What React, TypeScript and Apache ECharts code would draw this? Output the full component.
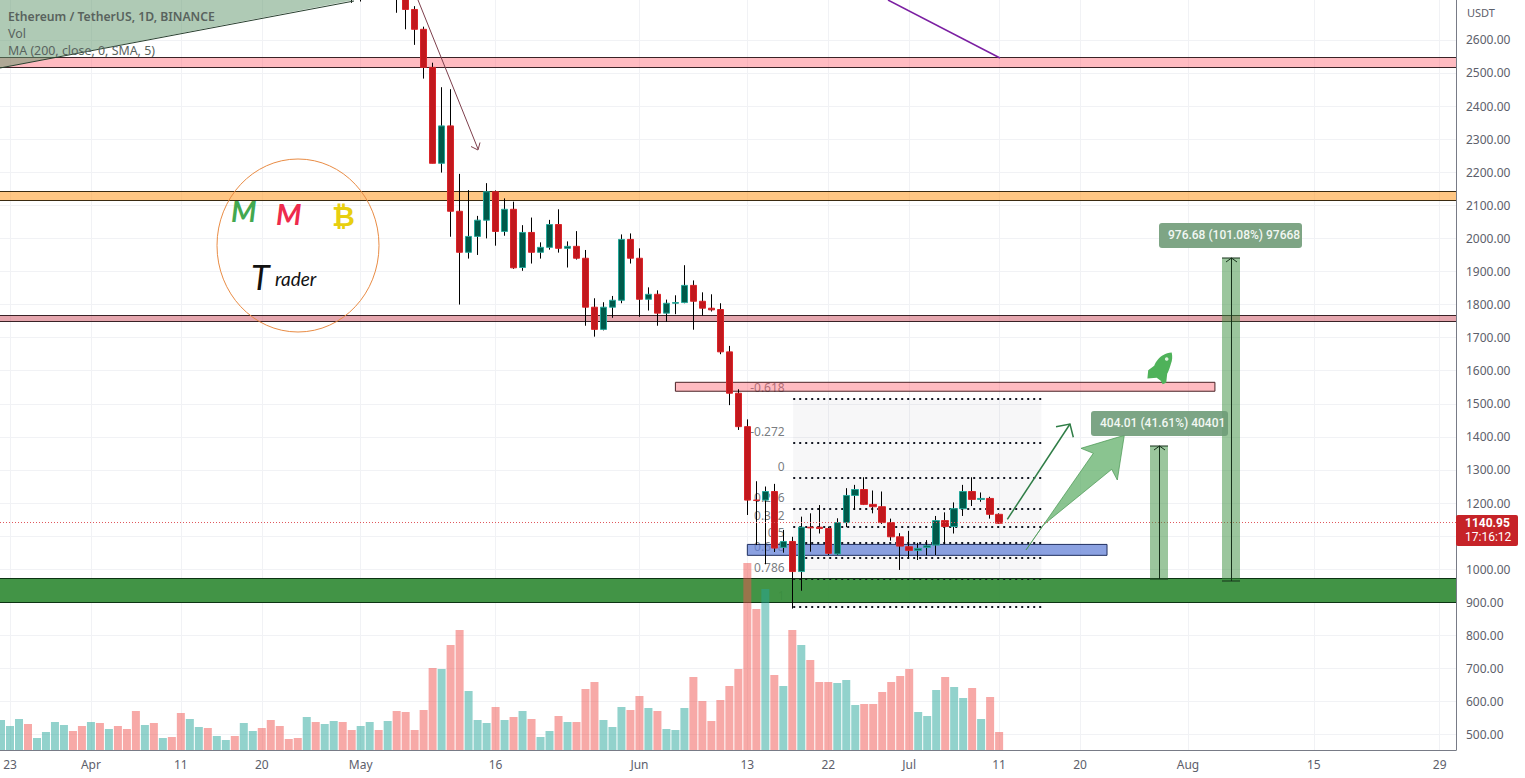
import React, { useEffect, useRef } from "react";
import * as echarts from "echarts";

// Tick labels
const xTickDays = [1, 10, 20, 29, 40, 55, 71, 83, 92, 101, 111, 120, 132, 146, 160];
const xTickLabels = ["23", "Apr", "11", "20", "May", "16", "Jun", "13", "22", "Jul", "11", "20", "Aug", "15", "29"];
const priceTicks = [500, 600, 700, 800, 900, 1000, 1100, 1200, 1300, 1400, 1500, 1600, 1700, 1800, 1900, 2000, 2100, 2200, 2300, 2400, 2500, 2600];

// Day index 39 is Apr 30 (index 0 is Mar 22). open, close, low, high
const firstCandleDay = 39;
const candles = [
  [2810, 2730, 2712, 2860], [2730, 2830, 2716, 2860], [2830, 2860, 2740, 2880], [2860, 2780, 2730, 2900],
  [2780, 2940, 2725, 2960], [2940, 2750, 2682, 2960], [2750, 2692, 2632, 2770], [2692, 2632, 2585, 2702],
  [2632, 2517, 2483, 2640], [2517, 2227, 2227, 2531], [2227, 2340, 2199, 2457], [2340, 2082, 2005, 2451],
  [2082, 1958, 1800, 2195], [1958, 2006, 1939, 2146], [2006, 2055, 1950, 2068], [2055, 2141, 2000, 2167],
  [2141, 2021, 1978, 2145], [2021, 2088, 2008, 2121], [2088, 1911, 1908, 2111], [1912, 2018, 1902, 2040],
  [2018, 1958, 1924, 2063], [1958, 1973, 1939, 1988], [1973, 2042, 1966, 2056], [2042, 1970, 1957, 2088],
  [1970, 1976, 1912, 1991], [1976, 1940, 1936, 2022], [1940, 1792, 1736, 1965], [1792, 1725, 1703, 1819],
  [1725, 1792, 1722, 1807], [1792, 1813, 1760, 1826], [1813, 1997, 1804, 2012], [1997, 1940, 1924, 2015],
  [1940, 1816, 1763, 1970], [1816, 1831, 1782, 1852], [1831, 1774, 1736, 1843], [1774, 1804, 1748, 1815],
  [1804, 1806, 1771, 1828], [1806, 1858, 1804, 1919], [1858, 1810, 1724, 1873], [1810, 1789, 1767, 1837],
  [1789, 1784, 1779, 1831], [1785, 1657, 1650, 1804], [1657, 1532, 1496, 1675], [1532, 1431, 1421, 1544],
  [1431, 1209, 1164, 1453], [1209, 1208, 1073, 1266], [1209, 1235, 1015, 1250], [1235, 1064, 1052, 1258],
  [1066, 1084, 1050, 1119], [1084, 993, 881, 1098], [993, 1127, 935, 1159], [1127, 1125, 1053, 1169],
  [1127, 1123, 1108, 1194], [1123, 1048, 1043, 1129], [1046, 1141, 1043, 1154], [1141, 1223, 1127, 1245],
  [1223, 1241, 1179, 1255], [1241, 1196, 1194, 1278], [1196, 1189, 1169, 1238], [1189, 1141, 1137, 1235],
  [1141, 1098, 1086, 1153], [1098, 1070, 998, 1109], [1068, 1057, 1031, 1116], [1057, 1063, 1028, 1080],
  [1066, 1071, 1042, 1088], [1073, 1147, 1043, 1161], [1147, 1129, 1076, 1172], [1129, 1183, 1108, 1202],
  [1183, 1235, 1161, 1255], [1235, 1211, 1191, 1278], [1211, 1214, 1204, 1232], [1214, 1166, 1153, 1219],
  [1166, 1139, 1137, 1169],
];

// Volume starts at index 0 (Mar 22); 1 means an up day
const volumes = [
  30, 24, 31, 26, 12, 18, 28, 25, 19, 24, 28, 27, 21, 24, 21, 39, 25, 27, 12, 13,
  37, 31, 23, 22, 14, 10, 14, 27, 19, 22, 30, 24, 11, 12, 33, 28, 26, 29, 28, 20,
  24, 28, 20, 29, 39, 38, 20, 40, 82, 81, 105, 120, 59, 30, 27, 43, 30, 33, 39, 31,
  13, 19, 34, 28, 28, 61, 68, 30, 23, 43, 40, 54, 42, 39, 21, 20, 42, 73, 49, 29,
  50, 64, 81, 187, 141, 161, 75, 64, 120, 105, 90, 68, 68, 67, 70, 45, 46, 46, 58, 68,
  74, 81, 38, 34, 60, 73, 63, 52, 62, 31, 53, 18,
];
const volumeUp = [
  1, 1, 1, 0, 1, 1, 1, 1, 0, 0, 1, 0, 1, 0, 0, 0, 1, 0, 1, 0,
  0, 1, 1, 0, 1, 1, 0, 1, 1, 0, 0, 0, 0, 0, 1, 0, 1, 1, 0, 0,
  1, 1, 0, 1, 0, 0, 0, 0, 0, 1, 0, 0, 1, 1, 1, 0, 1, 0, 1, 0,
  1, 1, 0, 1, 0, 0, 0, 1, 1, 1, 0, 0, 1, 0, 1, 1, 1, 0, 0, 0,
  0, 0, 0, 0, 0, 1, 0, 1, 0, 1, 0, 0, 0, 1, 1, 1, 0, 0, 0, 0,
  0, 0, 1, 1, 1, 0, 1, 1, 0, 1, 0, 0,
];

// Horizontal zones: low price, high price, first day, last day
const DAY_MIN = -0.112;
const DAY_MAX = 161.81;
const zones = [
  { low: 2517, high: 2547, from: DAY_MIN, to: DAY_MAX, fill: "rgba(255,85,100,0.4)", edge: "#3a2226" },
  { low: 2115, high: 2142, from: DAY_MIN, to: DAY_MAX, fill: "rgba(255,152,30,0.55)", edge: "#3a2a10" },
  { low: 1749, high: 1767, from: DAY_MIN, to: DAY_MAX, fill: "rgba(200,70,85,0.48)", edge: "#3a2226" },
  { low: 1538, high: 1565, from: 75, to: 135, fill: "rgba(255,85,100,0.4)", edge: "#4a2226" },
  { low: 1042, high: 1075, from: 83, to: 123, fill: "rgba(100,130,215,0.75)", edge: "#1f2f60" },
  { low: 899, high: 972, from: DAY_MIN, to: DAY_MAX, fill: "rgba(56,142,60,0.95)", edge: "#0c3312" },
];

const fibNames = ["-0.618", "-0.272", "0", "0.236", "0.382", "0.5", "0.618", "0.786", "1"];
const fibLevels = [1515, 1382, 1277, 1183, 1128, 1079, 1035, 971, 887];
const FIB_FROM = 88.1;
const FIB_TO = 115.7;
const lastPrice = 1140.95;

const FONT = '"Noto Sans", sans-serif';
const RED = "#c2181d";
const TEAL = "#26a69a";

const rocketPath =
  "M25 0.7 C26 5 25.5 9 24.3 11.7 C23.5 15 22 19 20.5 22 L19.5 31 L16 32.5 L14 29 L10 26 L0.7 26.7 L1.5 18.5 L7.5 14 C9 10 13 5 16.7 3.3 C19 1.8 22 0.9 25 0.7 Z";

function App() {
  const ref = useRef<HTMLDivElement>(null);
  useEffect(() => {
    echarts.graphic.registerShape("rocket", echarts.graphic.extendPath(rocketPath, {}));
    const chart = echarts.init(ref.current!, null, { renderer: "svg" });
    const dayOf = (i: number) => firstCandleDay + i;
    const bodySeries = candles.map((c, i) => [dayOf(i), c[0], c[1], Math.min(c[0], c[1]), Math.max(c[0], c[1])]);
    const wickSeries = candles.map((c, i) => [dayOf(i), c[0], c[1], c[2], c[3]]);
    const line = (points: number[][], stroke: string, lineWidth = 1) => ({
      type: "polyline",
      z: 10,
      shape: { points },
      style: { stroke, lineWidth, fill: "none" },
    });
    const text = (x: number, y: number, t: string, font: string, fill: string) => ({
      type: "text",
      z: 11,
      x,
      y,
      style: { text: t, font, fill },
    });
    const isFull = (b: { from: number }) => b.from === DAY_MIN;
    const edgeLines = zones.filter(isFull).flatMap((b) =>
      [b.low, b.high].map((p) => [
        { coord: [DAY_MIN, p], lineStyle: { color: b.edge, type: "solid", width: 1 } },
        { coord: [DAY_MAX, p] },
      ])
    );
    const hidden = { showSymbol: false, symbol: "none", lineStyle: { opacity: 0 }, silent: true };
    chart.setOption({
      animation: false,
      backgroundColor: "#ffffff",
      grid: { left: 0, top: 0, right: 69, bottom: 28 },
      xAxis: {
        type: "value",
        min: DAY_MIN,
        max: DAY_MAX,
        axisLine: { show: true, onZero: false, lineStyle: { color: "#787b86" } },
        axisTick: { show: false, customValues: xTickDays },
        splitLine: { show: true, lineStyle: { color: "#f1f2f5" } },
        axisLabel: {
          customValues: xTickDays,
          formatter: (v: number) => xTickLabels[xTickDays.indexOf(v)] ?? "",
          color: "#5d606b",
          fontFamily: FONT,
          fontSize: 12,
          margin: 8,
        },
      },
      yAxis: [
        {
          type: "value",
          position: "right",
          min: 453.6,
          max: 2720.6,
          axisLine: { show: true, onZero: false, lineStyle: { color: "#787b86" } },
          axisTick: { show: false, customValues: priceTicks },
          splitLine: { show: true, lineStyle: { color: "#f1f2f5" } },
          axisLabel: {
            customValues: priceTicks,
            formatter: (v: number) => v.toFixed(2),
            color: "#5d606b",
            fontFamily: FONT,
            fontSize: 12,
            margin: 10,
          },
        },
        { type: "value", show: false, min: 0, max: 750, splitLine: { show: false } },
      ],
      series: [
        {
          type: "line",
          name: "fib-bg",
          z: 1,
          data: [[FIB_FROM, fibLevels[0]]],
          ...hidden,
          markArea: {
            z: 1,
            silent: true,
            itemStyle: { color: "rgba(120,123,134,0.06)" },
            data: [[{ coord: [FIB_FROM, fibLevels[0]] }, { coord: [FIB_TO, fibLevels[8]] }]],
          },
        },
        {
          type: "scatter",
          name: "fib-labels",
          z: 2,
          symbolSize: 1,
          itemStyle: { color: "rgba(0,0,0,0)" },
          silent: true,
          data: fibLevels.map((p, i) => ({ value: [FIB_FROM, p], name: fibNames[i] })),
          label: {
            show: true,
            position: "left",
            offset: [-3, -11],
            formatter: "{b}",
            color: "#555a60",
            fontFamily: FONT,
            fontSize: 12,
          },
        },
        {
          type: "line",
          name: "zones",
          z: 3,
          data: [[FIB_FROM, fibLevels[0]]],
          ...hidden,
          markLine: {
            z: 3,
            silent: true,
            symbol: "none",
            label: { show: false },
            lineStyle: { color: "#131722", type: [2, 4], width: 2 },
            data: [
              ...fibLevels.map((p) => [{ coord: [FIB_FROM, p] }, { coord: [FIB_TO, p] }]),
              ...edgeLines,
            ],
          },
          markArea: {
            z: 3,
            silent: true,
            data: zones.map((b) => [
              {
                coord: [b.from, b.high],
                itemStyle: { color: b.fill, borderColor: b.edge, borderWidth: isFull(b) ? 0 : 1 },
              },
              { coord: [b.to, b.low] },
            ]),
          },
        },
        {
          type: "candlestick",
          name: "wicks",
          z: 5,
          barWidth: 1,
          barMinWidth: 1,
          itemStyle: { color: "#000", color0: "#000", borderColor: "#000", borderColor0: "#000", borderWidth: 1 },
          data: wickSeries,
          encode: { x: 0, y: [1, 2, 3, 4] },
        },
        {
          type: "candlestick",
          name: "bodies",
          z: 6,
          barWidth: 7,
          itemStyle: { color: "#005a4a", color0: RED, borderColor: TEAL, borderColor0: "#d9252a", borderWidth: 1 },
          data: bodySeries,
          encode: { x: 0, y: [1, 2, 3, 4] },
        },
        {
          type: "bar",
          name: "Vol",
          yAxisIndex: 1,
          z: 7,
          barWidth: 8,
          data: volumes.map((v, i) => ({
            value: [i, v],
            itemStyle: { color: volumeUp[i] ? "rgba(38,166,154,0.5)" : "rgba(239,83,80,0.5)" },
          })),
        },
        {
          type: "line",
          name: "last-price",
          z: 8,
          data: [[DAY_MIN, lastPrice]],
          ...hidden,
          markLine: {
            z: 8,
            silent: true,
            symbol: "none",
            label: { show: false },
            lineStyle: { color: "#e0575c", type: [1, 2], width: 1 },
            data: [[{ coord: [DAY_MIN, lastPrice] }, { coord: [DAY_MAX, lastPrice] }]],
          },
        },
      ],
      graphic: {
        elements: [
          // Top-left wedge
          {
            type: "polygon",
            z: 9,
            shape: { points: [[0, 0], [354, 0], [0, 68]] },
            style: { fill: "rgba(96,150,108,0.5)" },
          },
          line([[0, 68], [354, 1]], "#28402f", 1),
          // Long-term lines
          line([[418, 0], [478, 149]], "#7d3f4c", 1),
          line([[471, 146.5], [478, 150], [480, 142.5]], "#7d3f4c", 1),
          line([[888, 0], [1000, 58]], "#7b1fa2", 1.5),
          // Logo
          { type: "ellipse", z: 10, shape: { cx: 298, cy: 245.5, rx: 81, ry: 86.5 }, style: { fill: "none", stroke: "#e98c45", lineWidth: 1 } },
          text(231, 196, "M", "italic 700 29px Lato, sans-serif", "#43a84f"),
          text(276, 199, "M", "italic 700 29px Lato, sans-serif", "#ee2a4c"),
          text(332, 202, "₿", "700 28px 'DejaVu Sans', sans-serif", "#e8cf10"),
          text(251, 259, "T", "italic 400 34px Lato, sans-serif", "#111"),
          text(275, 269, "rader", "italic 400 19px Lato, sans-serif", "#111"),
          // Green arrows
          line([[1007.3, 519.3], [1070, 424]], "#2f7d46", 1.5),
          line([[1056, 426.7], [1070, 424], [1073.3, 437.3]], "#2f7d46", 1.5),
          {
            type: "polygon",
            z: 10,
            shape: {
              points: [[1026, 550], [1093.3, 453.3], [1081, 448.3], [1124.3, 435.3], [1117.3, 480], [1111.7, 469.3], [1043.3, 525]],
            },
            style: { fill: "rgba(76,165,84,0.65)", stroke: "rgba(70,150,80,0.7)", lineWidth: 1 },
          },
          // Measures
          { type: "rect", z: 10, shape: { x: 1150, y: 446, width: 18, height: 133 }, style: { fill: "rgba(56,142,60,0.5)" } },
          line([[1159.5, 446], [1159.5, 579]], "#16301a", 1),
          line([[1150, 446], [1168, 446]], "#16301a", 1),
          line([[1150, 579], [1168, 579]], "#16301a", 1),
          line([[1154, 450], [1159.5, 446], [1165, 450]], "#16301a", 1),
          { type: "rect", z: 10, shape: { x: 1222, y: 258, width: 18, height: 323 }, style: { fill: "rgba(56,142,60,0.5)" } },
          line([[1231.5, 258], [1231.5, 581]], "#16301a", 1),
          line([[1222, 258], [1240, 258]], "#16301a", 1),
          line([[1222, 581], [1240, 581]], "#16301a", 1),
          line([[1226, 262], [1231.5, 258], [1237, 262]], "#16301a", 1),
          { type: "rect", z: 10, shape: { x: 1159, y: 223, width: 143, height: 25, r: 3 }, style: { fill: "#7ea585" } },
          text(1168, 229, "976.68 (101.08%) 97668", "500 12px Roboto, sans-serif", "#f2f7f2"),
          { type: "rect", z: 10, shape: { x: 1091, y: 411, width: 137, height: 25, r: 3 }, style: { fill: "rgba(110,155,120,0.9)" } },
          text(1100, 417, "404.01 (41.61%) 40401", "500 12px Roboto, sans-serif", "#f2f7f2"),
          // Rocket
          { type: "rocket", z: 10, x: 1146.7, y: 351.7, style: { fill: "#4fb25a" } },
          { type: "circle", z: 11, shape: { cx: 1166.7, cy: 359, r: 1.8 }, style: { fill: "#dff2df" } },
          // Legend
          text(8, 10, "Ethereum / TetherUS, 1D, BINANCE", `600 12.2px ${FONT}`, "#59635e"),
          text(8, 27, "Vol", `400 12.4px ${FONT}`, "#59635e"),
          text(8, 44, "MA (200, close, 0, SMA, 5)", `400 12.4px ${FONT}`, "#59635e"),
          // Axis unit and last price tag
          text(1467, 7, "USDT", `400 11px ${FONT}`, "#5d606b"),
          { type: "rect", z: 10, shape: { x: 1456, y: 515, width: 62, height: 31, r: 2 }, style: { fill: "#c62328" } },
          text(1465, 517, "1140.95", "700 12px Roboto, sans-serif", "#ffffff"),
          text(1465, 531, "17:16:12", "400 12px Roboto, sans-serif", "#ffffff"),
        ],
      },
    });
    return () => chart.dispose();
  }, []);
  return (
    <div
      ref={ref}
      style={{ position: "fixed", left: 0, top: 0, width: 1525, height: 778, background: "#fff" }}
    />
  );
}

export default App;
